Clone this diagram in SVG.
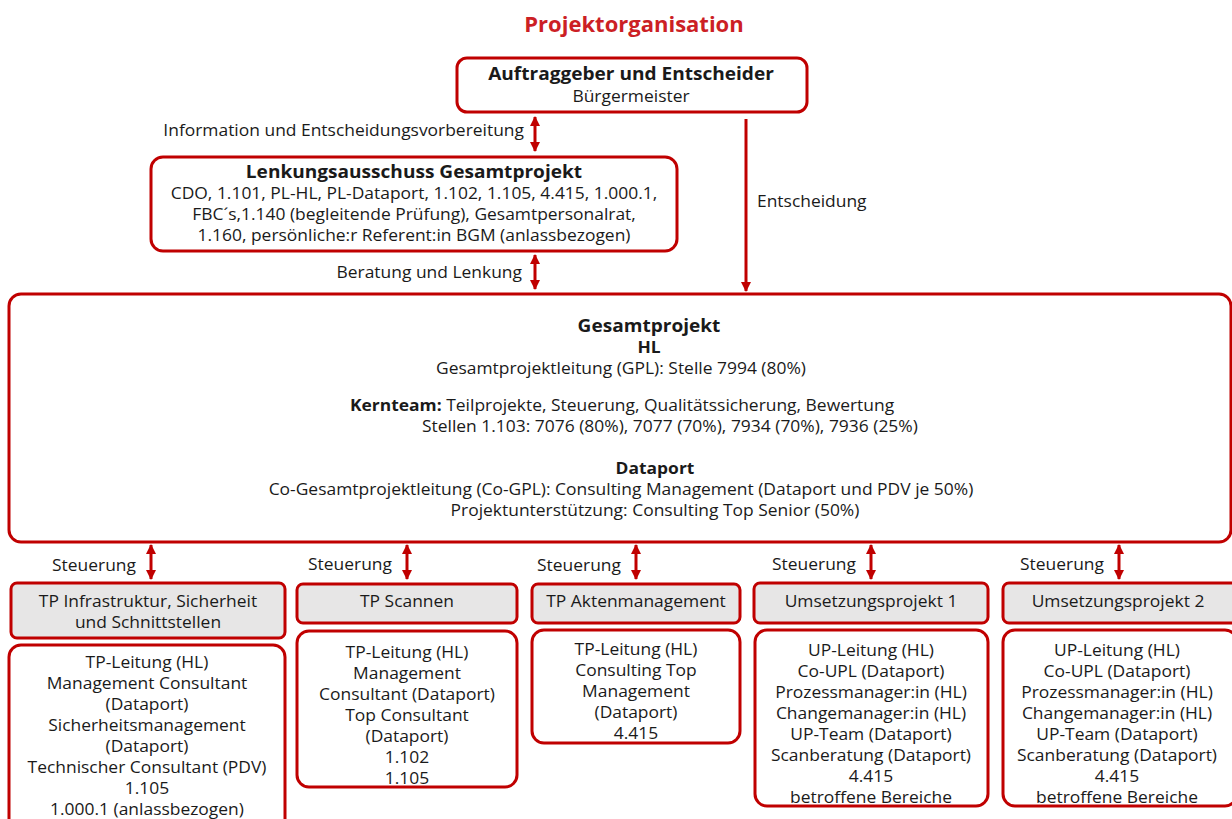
<svg xmlns="http://www.w3.org/2000/svg" width="1232" height="819" viewBox="0 0 1232 819">
<style>
text{font-family:"Open Sans","Noto Sans","Liberation Sans",sans-serif;font-size:16px;fill:#1a1a1a;text-anchor:middle;transform-box:fill-box;transform-origin:center;transform:scaleX(1.09)}
.b{font-weight:700}
.t{font-size:22px;font-weight:700;fill:#cc1f25;transform:none}
.h{font-size:17.5px;font-weight:700}
.l{text-anchor:end;transform-origin:right}
.s{text-anchor:start;transform-origin:left}
.box{fill:#fff;stroke:#c00000;stroke-width:3}
.hd{fill:#e7e6e6;stroke:#c00000;stroke-width:3}
.c{stroke:#c00000;stroke-width:3;fill:none}
</style>
<defs>
<marker id="ah" viewBox="0 0 10 10" refX="9" refY="5" markerWidth="10" markerHeight="10" markerUnits="userSpaceOnUse" orient="auto-start-reverse">
<path d="M0,0 L10,5 L0,10 Z" fill="#c00000"/>
</marker>
</defs>
<rect width="1232" height="819" fill="#fff"/>
<text class="t" x="634" y="32">Projektorganisation</text>

<g id="connectors">
<line class="c" x1="535" y1="117" x2="535" y2="151" marker-start="url(#ah)" marker-end="url(#ah)"/>
<line class="c" x1="746" y1="119" x2="746" y2="291" marker-end="url(#ah)"/>
<line class="c" x1="535" y1="255" x2="535" y2="289" marker-start="url(#ah)" marker-end="url(#ah)"/>
<line class="c" x1="151" y1="545" x2="151" y2="579" marker-start="url(#ah)" marker-end="url(#ah)"/>
<line class="c" x1="407" y1="545" x2="407" y2="579" marker-start="url(#ah)" marker-end="url(#ah)"/>
<line class="c" x1="636" y1="545" x2="636" y2="579" marker-start="url(#ah)" marker-end="url(#ah)"/>
<line class="c" x1="871" y1="545" x2="871" y2="579" marker-start="url(#ah)" marker-end="url(#ah)"/>
<line class="c" x1="1119" y1="545" x2="1119" y2="579" marker-start="url(#ah)" marker-end="url(#ah)"/>
<text class="l" x="524" y="136">Information und Entscheidungsvorbereitung</text>
<text class="s" x="757" y="207">Entscheidung</text>
<text class="l" x="522" y="278">Beratung und Lenkung</text>
<text class="l" x="136" y="571">Steuerung</text>
<text class="l" x="392" y="570">Steuerung</text>
<text class="l" x="621" y="571">Steuerung</text>
<text class="l" x="856" y="570">Steuerung</text>
<text class="l" x="1104" y="570">Steuerung</text>
</g>

<g id="auftraggeber">
<rect class="box" x="457" y="58" width="350" height="54" rx="10"/>
<text class="h" x="631" y="80">Auftraggeber und Entscheider</text>
<text x="631" y="102">Bürgermeister</text>
</g>

<g id="lenkungsausschuss">
<rect class="box" x="151" y="157" width="526" height="94" rx="12"/>
<text class="h" x="414" y="178">Lenkungsausschuss Gesamtprojekt</text>
<text x="414" y="199">CDO, 1.101, PL-HL,  PL-Dataport, 1.102, 1.105, 4.415, 1.000.1,</text>
<text x="414" y="220">FBC´s,1.140 (begleitende Prüfung), Gesamtpersonalrat,</text>
<text x="414" y="241">1.160, persönliche:r Referent:in BGM (anlassbezogen)</text>
</g>

<g id="gesamtprojekt">
<rect class="box" x="9" y="294" width="1222" height="248" rx="12"/>
<text class="h" x="649" y="332">Gesamtprojekt</text>
<text class="b" x="649" y="353">HL</text>
<text x="621" y="374">Gesamtprojektleitung (GPL): Stelle 7994 (80%)</text>
<text class="s" x="350" y="411"><tspan class="b">Kernteam:</tspan> Teilprojekte, Steuerung, Qualitätssicherung, Bewertung</text>
<text class="s" x="422" y="432">Stellen 1.103: 7076 (80%), 7077 (70%), 7934 (70%), 7936 (25%)</text>
<text class="b" x="655" y="474">Dataport</text>
<text x="621" y="495">Co-Gesamtprojektleitung (Co-GPL): Consulting Management (Dataport und PDV je 50%)</text>
<text x="655" y="516">Projektunterstützung: Consulting Top Senior (50%)</text>
</g>

<g id="tp-infrastruktur">
<rect class="hd" x="11" y="583" width="274" height="55" rx="6"/>
<text x="148" y="607">TP Infrastruktur, Sicherheit</text>
<text x="148" y="628">und Schnittstellen</text>
<rect class="box" x="9" y="645" width="276" height="190" rx="12"/>
<text x="147" y="668">TP-Leitung (HL)</text>
<text x="147" y="689">Management Consultant</text>
<text x="147" y="710">(Dataport)</text>
<text x="147" y="731">Sicherheitsmanagement</text>
<text x="147" y="752">(Dataport)</text>
<text x="147" y="773">Technischer Consultant (PDV)</text>
<text x="147" y="794">1.105</text>
<text x="147" y="815">1.000.1 (anlassbezogen)</text>
</g>

<g id="tp-scannen">
<rect class="hd" x="297" y="584" width="220" height="39" rx="6"/>
<text x="407" y="607">TP Scannen</text>
<rect class="box" x="297" y="631" width="220" height="156" rx="12"/>
<text x="407" y="658">TP-Leitung (HL)</text>
<text x="407" y="679">Management</text>
<text x="407" y="700">Consultant (Dataport)</text>
<text x="407" y="721">Top Consultant</text>
<text x="407" y="742">(Dataport)</text>
<text x="407" y="763">1.102</text>
<text x="407" y="784">1.105</text>
</g>

<g id="tp-aktenmanagement">
<rect class="hd" x="532" y="584" width="208" height="39" rx="6"/>
<text x="636" y="607">TP Aktenmanagement</text>
<rect class="box" x="532" y="630" width="208" height="113" rx="12"/>
<text x="636" y="655">TP-Leitung (HL)</text>
<text x="636" y="676">Consulting Top</text>
<text x="636" y="697">Management</text>
<text x="636" y="718">(Dataport)</text>
<text x="636" y="739">4.415</text>
</g>

<g id="umsetzungsprojekt-1">
<rect class="hd" x="754" y="583" width="234" height="40" rx="6"/>
<text x="871" y="607">Umsetzungsprojekt 1</text>
<rect class="box" x="755" y="630" width="233" height="176" rx="12"/>
<text x="871" y="656">UP-Leitung (HL)</text>
<text x="871" y="677">Co-UPL (Dataport)</text>
<text x="871" y="698">Prozessmanager:in (HL)</text>
<text x="871" y="719">Changemanager:in (HL)</text>
<text x="871" y="740">UP-Team (Dataport)</text>
<text x="871" y="761">Scanberatung (Dataport)</text>
<text x="871" y="782">4.415</text>
<text x="871" y="803">betroffene Bereiche</text>
</g>

<g id="umsetzungsprojekt-2">
<rect class="hd" x="1003" y="583" width="234" height="40" rx="6"/>
<text x="1118" y="607">Umsetzungsprojekt 2</text>
<rect class="box" x="1003" y="630" width="234" height="176" rx="12"/>
<text x="1117" y="656">UP-Leitung (HL)</text>
<text x="1117" y="677">Co-UPL (Dataport)</text>
<text x="1117" y="698">Prozessmanager:in (HL)</text>
<text x="1117" y="719">Changemanager:in (HL)</text>
<text x="1117" y="740">UP-Team (Dataport)</text>
<text x="1117" y="761">Scanberatung (Dataport)</text>
<text x="1117" y="782">4.415</text>
<text x="1117" y="803">betroffene Bereiche</text>
</g>
</svg>
